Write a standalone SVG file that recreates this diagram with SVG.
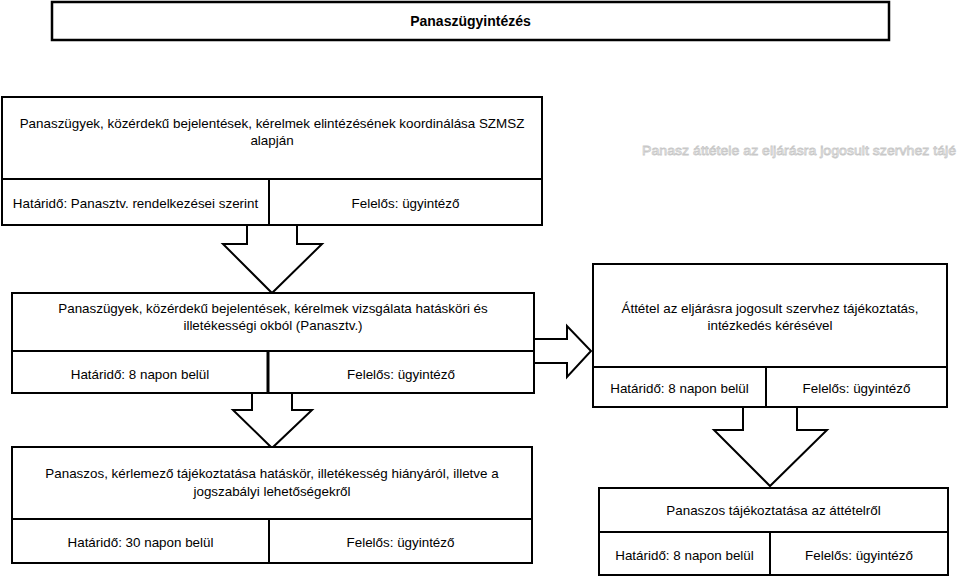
<svg xmlns="http://www.w3.org/2000/svg" width="960" height="577" viewBox="0 0 960 577">
<style>
.box{fill:#fff;stroke:#000;stroke-width:2}
.ln{stroke:#000;stroke-width:2;fill:none}
.arr{fill:#fff;stroke:#000;stroke-width:2;stroke-linejoin:miter}
text{font-family:"Liberation Sans",Arial,sans-serif;font-size:13.4px;fill:#000;text-anchor:middle}
.title{font-weight:bold;font-size:14px}
.ghost{fill:#fff;stroke:#c8c8c8;stroke-width:0.8;text-anchor:start;font-size:13.5px}
</style>
<rect width="960" height="577" fill="#fff"/>
<text class="ghost" x="642" y="155" textLength="314" lengthAdjust="spacingAndGlyphs">Panasz áttétele az eljárásra jogosult szervhez tájé</text>
<g id="connectors">
<polygon class="arr" points="247,225 247,244 223,244 272,293 322,244 297,244 297,225"/>
<polygon class="arr" points="252,393 252,410 233,410 272,448 312,410 292,410 292,393"/>
<polygon class="arr" points="534,339 567,339 567,326 591,351 567,377 567,363 534,363"/>
<polygon class="arr" points="743,407 743,430 714,430 770,486 827,430 797,430 797,407"/>
</g>
<g id="title">
<rect class="box" x="52" y="2" width="837" height="38" style="stroke-width:2.5"/>
<text class="title" x="470.5" y="26">Panaszügyintézés</text>
</g>
<g id="node1">
<rect class="box" x="2" y="97" width="540" height="128"/>
<line class="ln" x1="2" y1="179" x2="542" y2="179"/>
<line class="ln" x1="269" y1="179" x2="269" y2="225"/>
<text x="272" y="128">Panaszügyek, közérdekű bejelentések, kérelmek  elintézésének koordinálása SZMSZ</text>
<text x="272" y="145">alapján</text>
<text x="135.5" y="207.5">Határidő: Panasztv. rendelkezései szerint</text>
<text x="405.5" y="207.5">Felelős: ügyintéző</text>
</g>
<g id="node2">
<rect class="box" x="12" y="293" width="522" height="100"/>
<line class="ln" x1="12" y1="351" x2="534" y2="351"/>
<line class="ln" x1="268" y1="351" x2="268" y2="393" style="stroke-width:3"/>
<text x="273" y="312.5">Panaszügyek, közérdekű bejelentések, kérelmek  vizsgálata hatásköri és</text>
<text x="273" y="330">illetékességi okból (Panasztv.)</text>
<text x="140" y="378.5">Határidő: 8 napon belül</text>
<text x="401" y="378.5">Felelős: ügyintéző</text>
</g>
<g id="node3">
<rect class="box" x="593" y="264" width="354" height="143"/>
<line class="ln" x1="593" y1="367" x2="947" y2="367"/>
<line class="ln" x1="766" y1="367" x2="766" y2="407"/>
<text x="770" y="312.5">Áttétel az eljárásra jogosult szervhez tájékoztatás,</text>
<text x="770" y="329.5">intézkedés kérésével</text>
<text x="679.5" y="392.5">Határidő: 8 napon belül</text>
<text x="856.5" y="392.5">Felelős: ügyintéző</text>
</g>
<g id="node4">
<rect class="box" x="12" y="447" width="520" height="116"/>
<line class="ln" x1="12" y1="519" x2="532" y2="519"/>
<line class="ln" x1="269" y1="519" x2="269" y2="563"/>
<text x="272" y="477.5">Panaszos, kérlemező tájékoztatása hatáskör, illetékesség hiányáról, illetve a</text>
<text x="272" y="495.5">jogszabályi lehetőségekről</text>
<text x="140.5" y="546.5">Határidő: 30 napon belül</text>
<text x="400.5" y="546.5">Felelős: ügyintéző</text>
</g>
<g id="node5">
<rect class="box" x="599" y="488" width="349" height="87"/>
<line class="ln" x1="599" y1="532" x2="948" y2="532"/>
<line class="ln" x1="770" y1="532" x2="770" y2="575"/>
<text x="773.5" y="514.5">Panaszos tájékoztatása az áttételről</text>
<text x="684.5" y="559.5">Határidő: 8 napon belül</text>
<text x="859" y="559.5">Felelős: ügyintéző</text>
</g>
</svg>
